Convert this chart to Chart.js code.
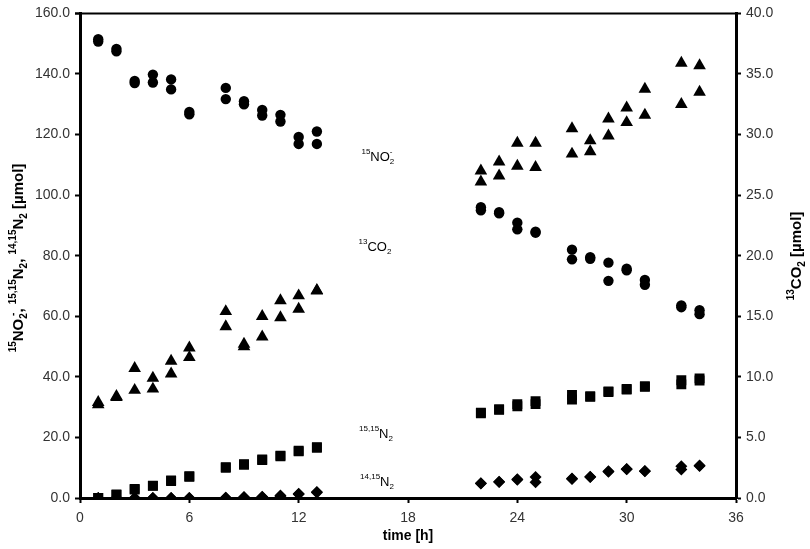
<!DOCTYPE html>
<html>
<head>
<meta charset="utf-8">
<script src="https://cdn.jsdelivr.net/npm/chart.js@4.4.1/dist/chart.umd.min.js"></script>
<style>
  html, body { margin: 0; padding: 0; background: #fff; }
  #wrap { width: 810px; height: 549px; }
</style>
</head>
<body>
<div id="wrap"><canvas id="chart" width="810" height="549"></canvas></div>
<script>
// sampling times [h], two replicate readings per time
const times = [1, 2, 3, 4, 5, 6, 8, 9, 10, 11, 12, 13, 22, 23, 24, 25, 27, 28, 29, 30, 31, 33, 34];

const nitriteA = [151.5, 148.3, 137.7, 139.8, 138.2, 127.5, 135.4, 131.0, 128.1, 126.5, 119.2, 121.0, 96.0, 94.4, 90.9, 87.9, 82.0, 79.5, 77.7, 75.7, 72.0, 63.6, 62.0];
const nitriteB = [150.7, 147.5, 137.0, 137.2, 134.9, 126.7, 131.7, 130.0, 126.3, 124.3, 116.9, 116.9, 95.0, 94.0, 88.7, 87.6, 78.8, 79.0, 71.7, 75.2, 70.4, 63.0, 60.7];

const co2A = [7.9, 8.4, 10.7, 9.9, 11.3, 12.4, 15.4, 12.7, 15.0, 16.3, 16.7, 17.15, 27.0, 27.75, 29.3, 29.3, 30.5, 29.5, 31.3, 32.2, 33.75, 35.9, 35.7];
const co2B = [7.7, 8.3, 8.9, 9.0, 10.25, 11.6, 14.15, 12.5, 13.3, 14.9, 15.6, 17.1, 26.1, 26.6, 27.4, 27.3, 28.4, 28.6, 29.9, 31.0, 31.6, 32.5, 33.5];

const n1515A = [0, 1.2, 3.0, 4.1, 5.8, 7.2, 10.2, 11.2, 12.7, 14.0, 15.6, 16.8, 28.2, 29.3, 31.0, 32.0, 34.0, 33.6, 35.2, 36.0, 36.9, 38.9, 39.5];
const n1515B = [0, 1.0, 2.8, 4.0, 5.6, 7.0, 10.0, 11.0, 12.5, 13.8, 15.4, 16.6, 28.0, 29.1, 30.3, 31.0, 32.5, 33.4, 35.0, 35.8, 36.7, 37.5, 38.8];

const n1415A = [0, 0, 0, 0, 0, 0, 0.1, 0.3, 0.4, 0.8, 1.4, 2.0, 4.9, 5.4, 6.2, 6.9, 6.4, 7.0, 8.8, 9.6, 8.9, 10.5, 10.7];
const n1415B = [0, 0, 0, 0, 0, 0, 0.1, 0.2, 0.3, 0.6, 1.2, 1.8, 4.8, 5.3, 6.0, 5.2, 6.3, 6.9, 8.7, 9.5, 8.8, 9.4, 10.6];

const xTicks = [0, 6, 12, 18, 24, 30, 36];

const FONT = '"Liberation Sans", Arial, sans-serif';

function pts(a, b) {
  const out = [];
  times.forEach((t, i) => {
    out.push({ x: t, y: a[i] });
    out.push({ x: t, y: b[i] });
  });
  return out;
}

// text with super/subscripts; seg.k = 'n' | 'sup' | 'sub', seg.stay = don't advance
function drawRich(ctx, segs, x, y, size, bold, angle) {
  const fontFor = s => (bold ? 'bold ' : '') + (s.k === 'n' ? size : Math.round(size * 0.64)) + 'px ' + FONT;
  ctx.save();
  ctx.translate(x, y);
  ctx.rotate(angle || 0);
  let w = 0;
  segs.forEach(s => { ctx.font = fontFor(s); if (!s.stay) w += ctx.measureText(s.t).width; });
  let cx = -w / 2;
  ctx.textBaseline = 'middle';
  ctx.textAlign = 'left';
  ctx.fillStyle = '#000';
  segs.forEach(s => {
    ctx.font = fontFor(s);
    const dy = s.k === 'sup' ? -size * 0.4 : (s.k === 'sub' ? size * 0.38 : 0);
    ctx.fillText(s.t, cx, dy);
    if (!s.stay) cx += ctx.measureText(s.t).width;
  });
  ctx.restore();
}

const labelsPlugin = {
  id: 'labels',
  afterDraw(chart) {
    const ctx = chart.ctx;
    const a = chart.chartArea;
    // top frame line
    ctx.save();
    ctx.strokeStyle = '#000';
    ctx.lineWidth = 2;
    ctx.beginPath();
    ctx.moveTo(a.left - 5, a.top);
    ctx.lineTo(a.right, a.top);
    ctx.stroke();
    ctx.restore();

    // series labels inside the plot
    drawRich(ctx, [{ t: '15', k: 'sup' }, { t: 'NO', k: 'n' }, { t: '2', k: 'sub', stay: true }, { t: '-', k: 'sup' }], 377, 157, 13, false);
    drawRich(ctx, [{ t: '13', k: 'sup' }, { t: 'CO', k: 'n' }, { t: '2', k: 'sub' }], 375, 247, 13, false);
    drawRich(ctx, [{ t: '15,15', k: 'sup' }, { t: 'N', k: 'n' }, { t: '2', k: 'sub' }], 376, 434, 13, false);
    drawRich(ctx, [{ t: '14,15', k: 'sup' }, { t: 'N', k: 'n' }, { t: '2', k: 'sub' }], 377, 482, 13, false);

    // axis titles
    drawRich(ctx, [
      { t: '15', k: 'sup' }, { t: 'NO', k: 'n' }, { t: '2', k: 'sub', stay: true }, { t: ' -', k: 'sup' },
      { t: ', ', k: 'n' }, { t: '15,15', k: 'sup' }, { t: 'N', k: 'n' }, { t: '2', k: 'sub' },
      { t: ', ', k: 'n' }, { t: '14,15', k: 'sup' }, { t: 'N', k: 'n' }, { t: '2', k: 'sub' },
      { t: ' [µmol]', k: 'n' }
    ], 19, 258, 15, true, -Math.PI / 2);
    drawRich(ctx, [{ t: '13', k: 'sup' }, { t: 'CO', k: 'n' }, { t: '2', k: 'sub' }, { t: ' [µmol]', k: 'n' }], 797, 256, 15, true, -Math.PI / 2);
  }
};

const ctx = document.getElementById('chart').getContext('2d');
new Chart(ctx, {
  type: 'scatter',
  data: {
    datasets: [
      { label: 'nitrite', data: pts(nitriteA, nitriteB), yAxisID: 'y', pointStyle: 'circle', pointRadius: 5.2, backgroundColor: '#000', borderColor: '#000', borderWidth: 0 },
      { label: 'co2', data: pts(co2A, co2B), yAxisID: 'y2', pointStyle: 'triangle', pointRadius: 7.3, backgroundColor: '#000', borderColor: '#000', borderWidth: 0 },
      { label: 'n1515', data: pts(n1515A, n1515B), yAxisID: 'y', pointStyle: 'rect', pointRadius: 7, backgroundColor: '#000', borderColor: '#000', borderWidth: 0 },
      { label: 'n1415', data: pts(n1415A, n1415B), yAxisID: 'y', pointStyle: 'rectRot', pointRadius: 6, backgroundColor: '#000', borderColor: '#000', borderWidth: 0 }
    ]
  },
  options: {
    responsive: false,
    animation: false,
    layout: { padding: { top: 6, left: 0, right: 0, bottom: 0 } },
    plugins: { legend: { display: false }, tooltip: { enabled: false } },
    scales: {
      x: {
        type: 'linear', min: 0, max: 36,
        afterFit: s => { s.height = 51; },
        afterBuildTicks: s => { s.ticks = xTicks.map(v => ({ value: v })); },
        ticks: { color: '#333', font: { family: FONT, size: 14 }, padding: 7 },
        grid: { drawOnChartArea: false, drawTicks: true, tickLength: 5, tickColor: '#000', tickWidth: 2 },
        border: { display: true, color: '#000', width: 3 },
        title: { display: true, text: 'time [h]', color: '#000', font: { family: FONT, size: 14, weight: 'bold' }, padding: { top: 0 } }
      },
      y: {
        position: 'left', min: 0, max: 160,
        afterFit: s => { s.width = 80; },
        ticks: { stepSize: 20, color: '#333', font: { family: FONT, size: 14 }, padding: 5, callback: v => v.toFixed(1) },
        grid: { drawOnChartArea: false, drawTicks: true, tickLength: 5, tickColor: '#000', tickWidth: 2 },
        border: { display: true, color: '#000', width: 3 }
      },
      y2: {
        position: 'right', min: 0, max: 40,
        afterFit: s => { s.width = 74; },
        ticks: { stepSize: 5, color: '#333', font: { family: FONT, size: 14 }, padding: 5, callback: v => v.toFixed(1) },
        grid: { drawOnChartArea: false, drawTicks: true, tickLength: 5, tickColor: '#000', tickWidth: 2 },
        border: { display: true, color: '#000', width: 3 }
      }
    }
  },
  plugins: [labelsPlugin]
});
</script>
</body>
</html>
